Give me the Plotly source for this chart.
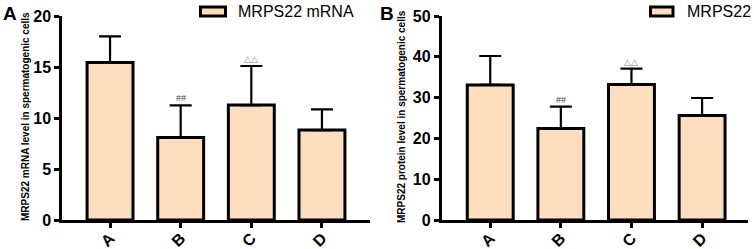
import plotly.graph_objects as go
from plotly.subplots import make_subplots

groups = ["A", "B", "C", "D"]
mrna_mean = [15.45, 8.1, 11.27, 8.82]
mrna_err = [2.55, 3.14, 3.83, 2.03]
prot_mean = [33.1, 22.4, 33.2, 25.6]
prot_err = [7.1, 5.4, 3.9, 4.3]
mrna_ticks = [0, 5, 10, 15, 20]
prot_ticks = [0, 10, 20, 30, 40, 50]
sig_labels = ["", "##", "△△", ""]
sig_colors = ["#444", "#444", "#888", "#444"]

W, H = 754, 249
FONT = "Arial, Liberation Sans, sans-serif"
FILL = "#FCDDBE"

fig = make_subplots(rows=1, cols=2)

for col, (mean, err) in enumerate([(mrna_mean, mrna_err), (prot_mean, prot_err)], start=1):
    fig.add_trace(go.Bar(
        x=groups, y=mean, width=0.65,
        marker=dict(color=FILL, line=dict(color="black", width=3)),
        error_y=dict(type="data", array=err, arrayminus=[0]*len(err), symmetric=False,
                     color="black", thickness=2.2, width=11),
        showlegend=False, hoverinfo="skip",
    ), row=1, col=col)
    xref = "x" if col == 1 else "x2"
    yref = "y" if col == 1 else "y2"
    for g, m, e, s, c in zip(groups, mean, err, sig_labels, sig_colors):
        if s:
            fig.add_annotation(x=g, y=m + e, xref=xref, yref=yref, text=s, showarrow=False,
                               yanchor="bottom", yshift=0,
                               font=dict(family=FONT, size=9, color=c))

ydom = [(H - 220) / H, (H - 16) / H]
axis_common = dict(showgrid=False, zeroline=False, showline=True, linecolor="black", linewidth=2.5,
                   ticks="outside", ticklen=5, tickwidth=2.5, tickcolor="black", automargin=False,
                   tickfont=dict(family=FONT, size=16, color="black"))

fig.update_xaxes(**axis_common, tickangle=-45, ticklabelstandoff=-5,
                 tickvals=groups, ticktext=[f"<b>{g}</b>" for g in groups])
fig.update_yaxes(**axis_common)
fig.update_layout(
    xaxis=dict(domain=[62 / W, 370 / W], range=[-0.68, 3.68]),
    xaxis2=dict(domain=[441.5 / W, 748 / W], range=[-0.69, 3.65]),
    yaxis=dict(domain=ydom, range=[0, 20], tickvals=mrna_ticks,
               ticktext=[f"<b>{t}</b>" for t in mrna_ticks]),
    yaxis2=dict(domain=ydom, range=[0, 50], tickvals=prot_ticks,
                ticktext=[f"<b>{t}</b>" for t in prot_ticks]),
    width=W, height=H, margin=dict(l=0, r=0, t=0, b=0, autoexpand=False),
    plot_bgcolor="white", paper_bgcolor="white", bargap=0.3,
)

def px(x):
    return x / W

def py(y):
    return 1 - y / H

# y-axis titles
for xc, txt in [(25, "MRPS22 mRNA level in spermatogenic cells"),
                (401, "MRPS22 protein level in spermatogenic cells")]:
    fig.add_annotation(x=px(xc), y=py(117), xref="paper", yref="paper", text=f"<b>{txt}</b>",
                       textangle=-90, showarrow=False, xanchor="center", yanchor="middle",
                       font=dict(family=FONT, size=10, color="black"))

# panel letters
for xl, letter in [(1, "A"), (378, "B")]:
    fig.add_annotation(x=px(xl), y=py(13.5), xref="paper", yref="paper", text=f"<b>{letter}</b>",
                       showarrow=False, xanchor="left", yanchor="middle",
                       font=dict(family=FONT, size=19, color="black"))

# legends
for (x0, x1, xt, txt) in [(200.5, 225.5, 236, "MRPS22 mRNA"), (650.5, 673, 685, "MRPS22")]:
    fig.add_shape(type="rect", xref="paper", yref="paper",
                  x0=px(x0), x1=px(x1), y0=py(16), y1=py(7),
                  fillcolor=FILL, line=dict(color="black", width=3))
    fig.add_annotation(x=px(xt), y=py(11.5), xref="paper", yref="paper", text=txt,
                       showarrow=False, xanchor="left", yanchor="middle",
                       font=dict(family=FONT, size=16, color="black"))

fig.write_html("out.html", config={"displayModeBar": False},
               post_script="document.body.style.margin='0';")
